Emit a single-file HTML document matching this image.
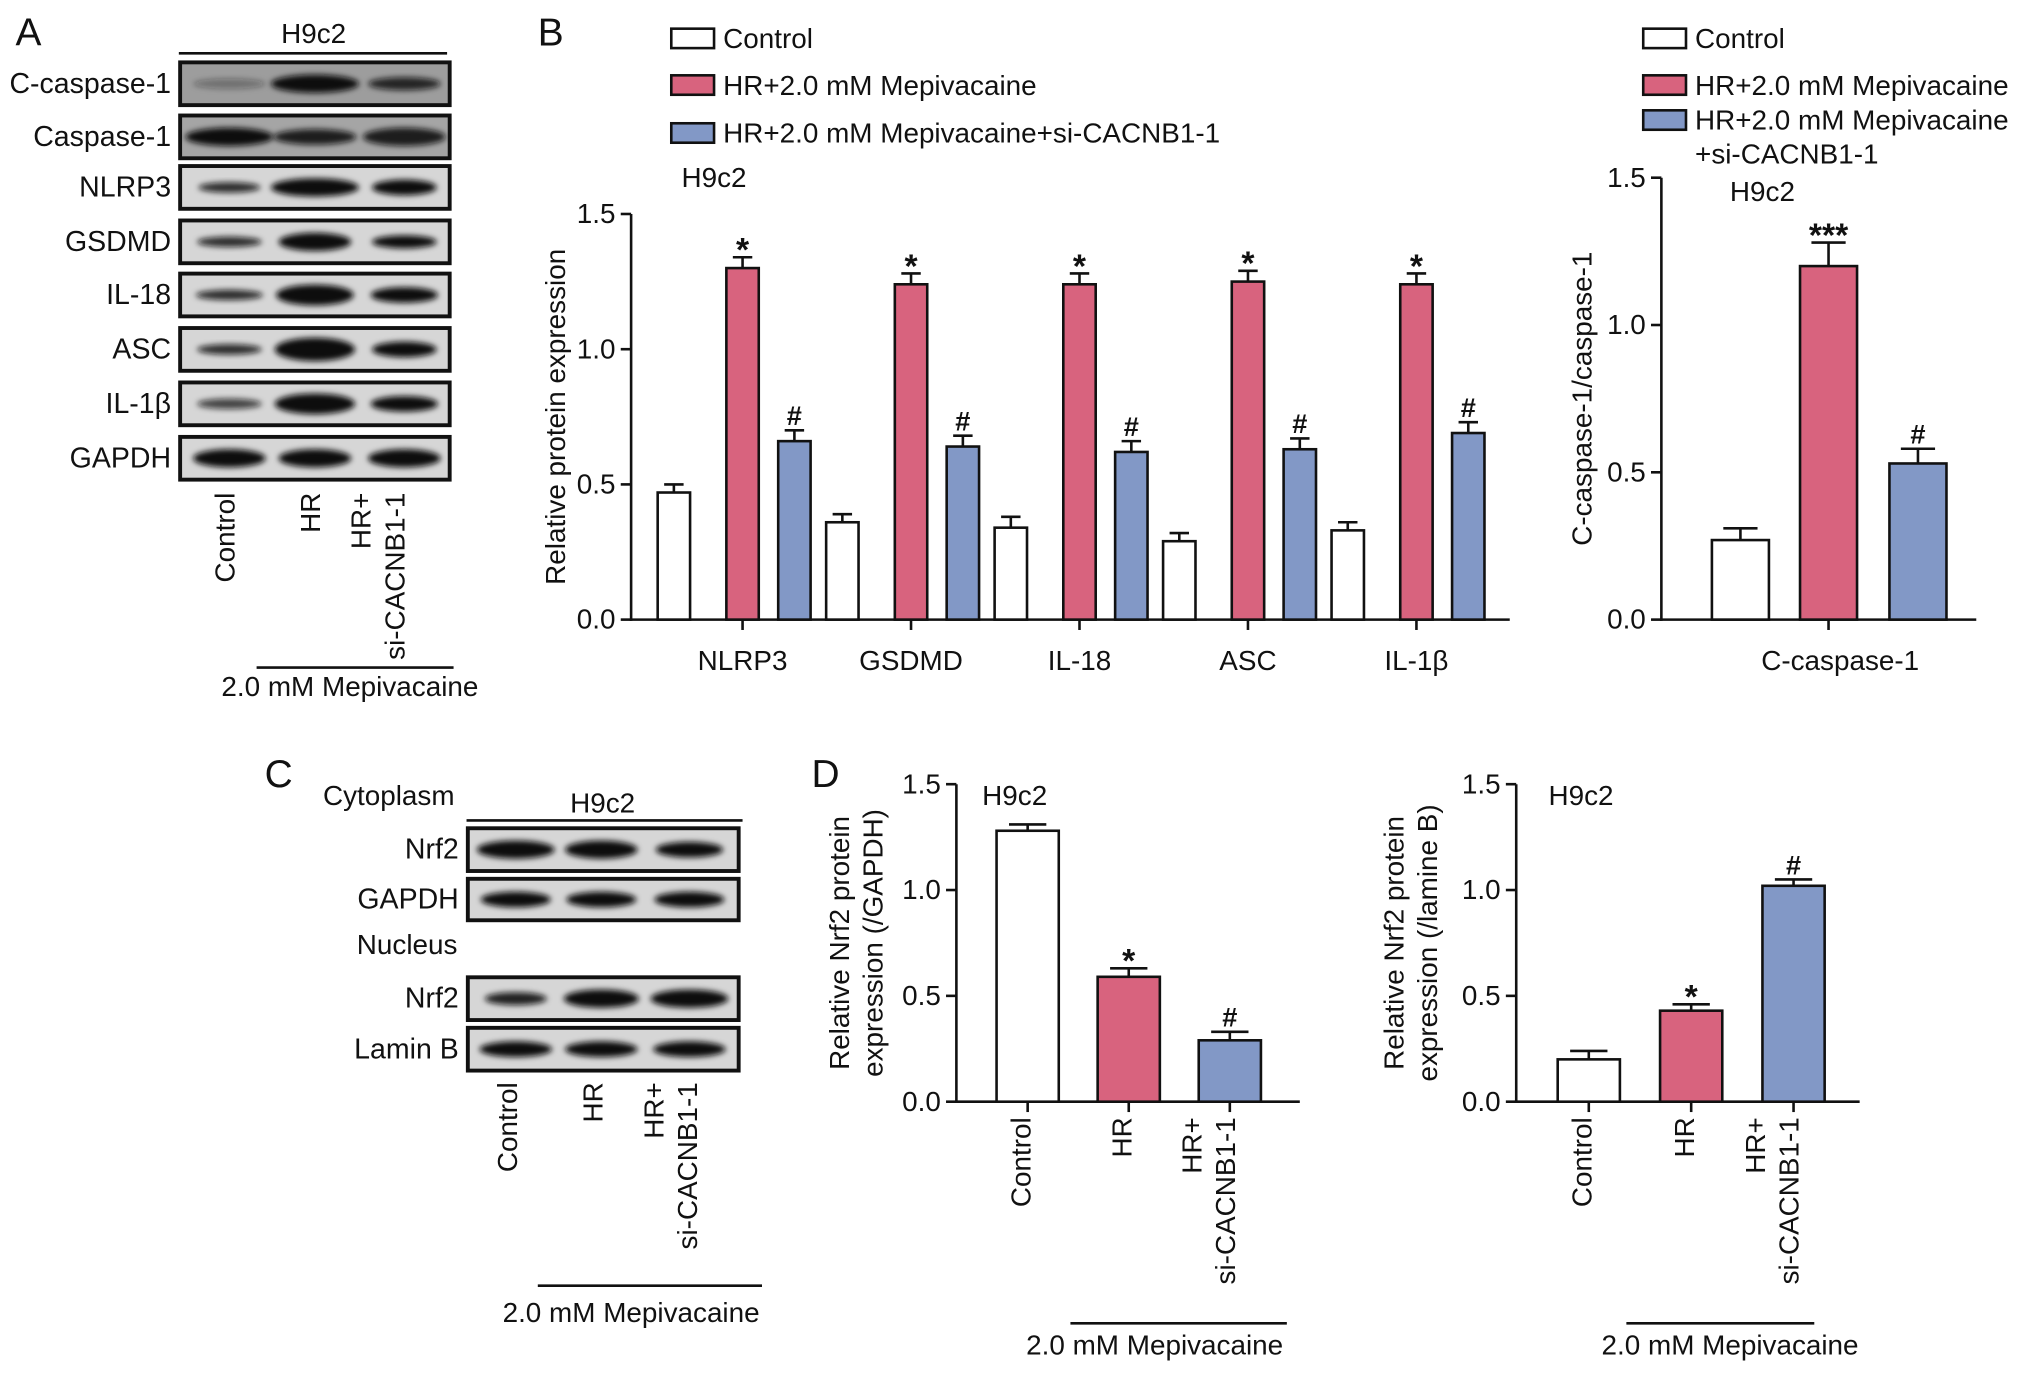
<!DOCTYPE html>
<html><head><meta charset="utf-8"><style>
html,body{margin:0;padding:0;background:#fff}
svg{display:block}
text{font-family:"Liberation Sans",sans-serif;fill:#111}
</style></head><body>
<svg id="fig" width="2032" height="1374" viewBox="0 0 1568 1060">
<defs><filter id="blur" x="-20%" y="-50%" width="140%" height="200%"><feGaussianBlur stdDeviation="2.2"/></filter></defs>
<g id="root"></g>
</svg>
<script>
// Panel B data
const bCategories = ["NLRP3","GSDMD","IL-18","ASC","IL-1β"];
const bControl = [0.47,0.36,0.34,0.29,0.33];
const bControlErr = [0.03,0.03,0.04,0.03,0.03];
const bHR = [1.30,1.24,1.24,1.25,1.24];
const bHRErr = [0.04,0.04,0.04,0.04,0.04];
const bSi = [0.66,0.64,0.62,0.63,0.69];
const bSiErr = [0.04,0.04,0.04,0.04,0.04];
const yTicks = [0.0,0.5,1.0,1.5];
const yTickLabels = ["0.0","0.5","1.0","1.5"];
// Panel B right
const cCatValues = [0.27,1.20,0.53];
const cCatErr = [0.04,0.08,0.05];
const cCatMarks = ["","***","#"];
// Panel D
const dLeftValues = [1.28,0.59,0.29];
const dLeftErr = [0.03,0.04,0.04];
const dLeftMarks = ["","*","#"];
const dRightValues = [0.20,0.43,1.02];
const dRightErr = [0.04,0.03,0.03];
const dRightMarks = ["","*","#"];

const NS="http://www.w3.org/2000/svg";
const root=document.getElementById('root');
const RED="#d8637e", BLUE="#8298c6", WHITE="#ffffff";
const fills=[WHITE,RED,BLUE];
const FS=21.5;
function el(tag,attrs,parent){const e=document.createElementNS(NS,tag);for(const k in attrs)e.setAttribute(k,attrs[k]);(parent||root).appendChild(e);return e;}
function txt(x,y,s,size,anchor,parent,extra){const t=el('text',Object.assign({x:x,y:y,'font-size':size,'text-anchor':anchor||'middle'},extra||{}),parent);t.textContent=s;return t;}

function yAxis(x,y0,y1,vmax,title1,title2,tx,name){
  const g=el('g',{});
  
  
  el('line',{x1:x,y1:y0+1,x2:x,y2:y1,stroke:'#111','stroke-width':2},g);
  const sc=v=>y0-(v/vmax)*(y0-y1);
  yTicks.forEach((v,i)=>{const yy=sc(v);el('line',{x1:x-8,y1:yy,x2:x,y2:yy,stroke:'#111','stroke-width':2},g);
    const t=txt(x-12,yy+7,yTickLabels[i],FS,'end',g);
    
    });
  const cy=(y0+y1)/2;
  if(title2){txt(tx,cy,title1,FS,'middle',g,{transform:`rotate(-90 ${tx} ${cy})`});txt(tx+26,cy,title2,FS,'middle',g,{transform:`rotate(-90 ${tx+26} ${cy})`});}
  else {txt(tx,cy,title1,FS,'middle',g,{transform:`rotate(-90 ${tx} ${cy})`});}
  return sc;
}
function bar(cx,w,v,e,sc,y0,fill,mark,name){
  const top=sc(v), et=sc(v+e);
  const g=el('g',{});
  
  
  el('line',{x1:cx,y1:top,x2:cx,y2:et,stroke:'#111','stroke-width':2},g);
  el('line',{x1:cx-w*0.3,y1:et,x2:cx+w*0.3,y2:et,stroke:'#111','stroke-width':2},g);
  el('rect',{x:cx-w/2,y:top,width:w,height:y0-top,fill:fill,stroke:'#111','stroke-width':2},g);
  if(mark){txt(cx,et+(mark==='#'?-4:3),mark,mark==='#'?21:26,'middle',g,{'font-weight':'bold'});}
}
function rotLabel(x,y,lines,name){
  const g=el('g',{});
  
  
  lines.forEach((s,i)=>{const xx=x+(i-(lines.length-1)/2)*26+7;txt(xx,y,s,FS,'end',g,{transform:`rotate(-90 ${xx} ${y})`});});
}
function laneLabels(xs,y,name){
  rotLabel(xs[0],y,["Control"],name+'-control');
  rotLabel(xs[1],y,["HR"],name+'-hr');
  rotLabel(xs[2],y,["HR+","si-CACNB1-1"],name+'-si');
}
function blot(x,y,w,h,bg,bands,lanesX,label,name){
  const g=el('g',{});
  
  
  el('rect',{x:x,y:y,width:w,height:h,fill:bg,stroke:'#111','stroke-width':3},g);
  bands.forEach((b,i)=>{el('ellipse',{cx:lanesX[i],cy:y+h/2,rx:b[0],ry:b[1],fill:'#111','fill-opacity':b[2],filter:'url(#blur)'},g);});
  txt(x-7,y+h/2+7,label,22,'end',g);
}

// Panel labels
[["A",22,35],["B",425,35],["C",215,607],["D",637,607]].forEach(p=>{const t=txt(p[1],p[2],p[0],30,'middle');});

// Panel A
txt(242,33,"H9c2",FS);
el('line',{x1:138,y1:41,x2:345,y2:41,stroke:'#111','stroke-width':2});
const aLanes=[177,243,312];
const aRows=[["C-caspase-1",48,'#9d9d9d',[[28,4,0.35],[34,7,1],[28,5,0.85]]],
["Caspase-1",89,'#a5a5a5',[[34,7,1],[32,6,0.9],[32,7,0.9]]],
["NLRP3",128,'#d6d6d6',[[24,4,0.85],[34,7,1],[25,6,1]]],
["GSDMD",170,'#d6d6d6',[[25,4,0.85],[28,7,1],[25,5,1]]],
["IL-18",211,'#d6d6d6',[[26,4,0.85],[30,8,1],[26,6,1]]],
["ASC",253,'#d6d6d6',[[25,4,0.85],[31,9,1],[25,6,1]]],
["IL-1β",295,'#d6d6d6',[[25,4,0.75],[31,8,1],[26,6,1]]],
["GAPDH",337,'#d6d6d6',[[28,7,1],[28,7,1],[28,7,1]]]];
aRows.forEach(r=>blot(139,r[1],208,33,r[2],r[3],aLanes,r[0],'blot-a-'+r[0].toLowerCase()));
laneLabels([174,240,292],380,'lane-label-a');
el('line',{x1:198,y1:515,x2:350,y2:515,stroke:'#111','stroke-width':2});
txt(270,537,"2.0 mM  Mepivacaine",FS);

// Legends
function legend(x,items,name){items.forEach((it,i)=>{const g=el('g',{});
  
  
  el('rect',{x:x,y:it[1]-15,width:33,height:15,fill:fills[i],stroke:'#111','stroke-width':2},g);
  it[0].forEach((s,j)=>txt(x+40,it[1]+j*26,s,FS,'start',g));});}
legend(518,[[["Control"],37],[["HR+2.0 mM Mepivacaine"],73],[["HR+2.0 mM Mepivacaine+si-CACNB1-1"],110]],'legend-b');
legend(1268,[[["Control"],37],[["HR+2.0 mM Mepivacaine"],73],[["HR+2.0 mM Mepivacaine","+si-CACNB1-1"],100]],'legend-b2');

// Chart B main
txt(551,144,"H9c2",FS);
const scB=yAxis(487,478,165,1.5,"Relative protein expression",null,436,'y-axis-b');
el('line',{x1:486,y1:478,x2:1165,y2:478,stroke:'#111','stroke-width':2});
const groupX=c=>573+bCategories.indexOf(c)*130;
bCategories.forEach((c,i)=>{const gx=groupX(c);
  el('line',{x1:gx,y1:478,x2:gx,y2:486,stroke:'#111','stroke-width':2});
  const t=txt(gx,517,c,FS);
  
  
  bar(gx-53,25,bControl[i],bControlErr[i],scB,478,WHITE,"",'bar-control-'+i);
  bar(gx,25,bHR[i],bHRErr[i],scB,478,RED,"*",'bar-hr-'+i);
  bar(gx+40,25,bSi[i],bSiErr[i],scB,478,BLUE,"#",'bar-si-'+i);
});

// Chart B right
txt(1360,155,"H9c2",FS);
const scC=yAxis(1282,478,137,1.5,"C-caspase-1/caspase-1",null,1228,'y-axis-c');
el('line',{x1:1281,y1:478,x2:1525,y2:478,stroke:'#111','stroke-width':2});
el('line',{x1:1411,y1:478,x2:1411,y2:486,stroke:'#111','stroke-width':2});
txt(1420,517,"C-caspase-1",FS);
[1343,1411,1480].forEach((x,i)=>bar(x,44,cCatValues[i],cCatErr[i],scC,478,fills[i],cCatMarks[i],'bar-ccasp-'+i));

// Panel C
txt(300,621,"Cytoplasm",FS);
txt(465,627,"H9c2",FS);
el('line',{x1:360,y1:633,x2:573,y2:633,stroke:'#111','stroke-width':2});
const cLanes=[398,464,532];
blot(361,639,209,33,'#d6d6d6',[[30,7,1],[28,7,1],[26,6,1]],cLanes,"Nrf2",'blot-c-nrf2-cyto');
blot(361,678,209,32,'#d6d6d6',[[27,6,1],[27,6,1],[27,6,1]],cLanes,"GAPDH",'blot-c-gapdh');
txt(353,736,"Nucleus",FS,'end');
blot(361,754,209,33,'#d6d6d6',[[24,5,0.9],[29,7,1],[30,7,1]],cLanes,"Nrf2",'blot-c-nrf2-nuc');
blot(361,793,209,33,'#d6d6d6',[[28,6,1],[28,6,1],[28,6,1]],cLanes,"Lamin B",'blot-c-laminb');
laneLabels([392,458,518],835,'lane-label-c');
el('line',{x1:415,y1:992,x2:588,y2:992,stroke:'#111','stroke-width':2});
txt(487,1020,"2.0 mM Mepivacaine",FS);

// Panel D left
txt(783,621,"H9c2",FS);
const scD1=yAxis(738,850,605,1.5,"Relative Nrf2 protein","expression (/GAPDH)",655,'y-axis-d1');
el('line',{x1:737,y1:850,x2:1003,y2:850,stroke:'#111','stroke-width':2});
[793,871,949].forEach((x,i)=>{el('line',{x1:x,y1:850,x2:x,y2:858,stroke:'#111','stroke-width':2});bar(x,48,dLeftValues[i],dLeftErr[i],scD1,850,fills[i],dLeftMarks[i],'bar-d1-'+i);});
laneLabels([788,866,933],862,'lane-label-d1');
el('line',{x1:826,y1:1021,x2:993,y2:1021,stroke:'#111','stroke-width':2});
txt(891,1045,"2.0 mM Mepivacaine",FS);

// Panel D right
txt(1220,621,"H9c2",FS);
const scD2=yAxis(1170,850,605,1.5,"Relative Nrf2 protein","expression (/lamine B)",1083,'y-axis-d2');
el('line',{x1:1169,y1:850,x2:1435,y2:850,stroke:'#111','stroke-width':2});
[1226,1305,1384].forEach((x,i)=>{el('line',{x1:x,y1:850,x2:x,y2:858,stroke:'#111','stroke-width':2});bar(x,48,dRightValues[i],dRightErr[i],scD2,850,fills[i],dRightMarks[i],'bar-d2-'+i);});
laneLabels([1221,1300,1368],862,'lane-label-d2');
el('line',{x1:1255,y1:1021,x2:1400,y2:1021,stroke:'#111','stroke-width':2});
txt(1335,1045,"2.0 mM Mepivacaine",FS);
</script>
</body></html>
